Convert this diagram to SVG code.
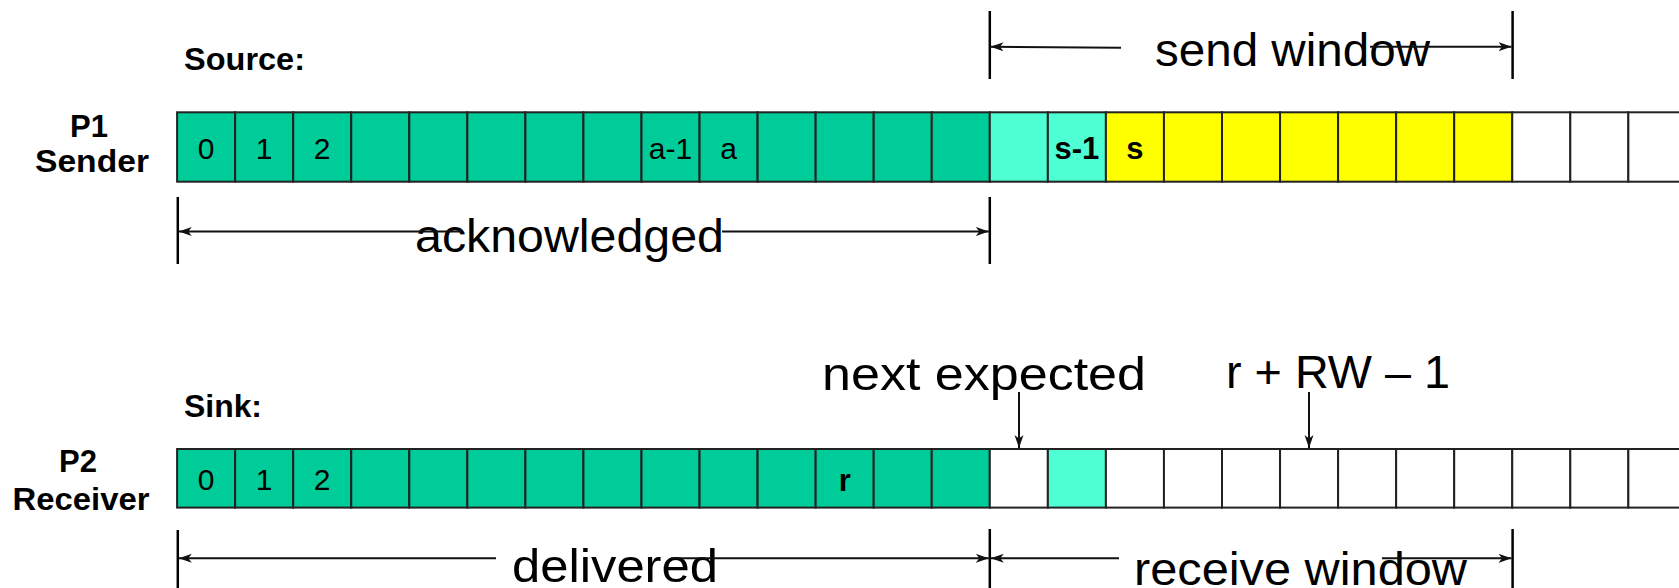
<svg xmlns="http://www.w3.org/2000/svg" width="1679" height="588" viewBox="0 0 1679 588">
<style>
  .cell{stroke:#222;stroke-width:2}
  .g{fill:#00CC99}
  .q{fill:#4DFFD2}
  .y{fill:#FFFF00}
  .w{fill:#FFFFFF}
  .num{font-family:"Liberation Sans",Arial,sans-serif;font-size:30px;fill:#000;text-anchor:middle}
  .bnum{font-family:"Liberation Sans",Arial,sans-serif;font-size:31px;font-weight:bold;fill:#000;text-anchor:middle}
  .lbl{font-family:"Liberation Sans",Arial,sans-serif;font-size:31px;font-weight:bold;fill:#000}
  .big{font-family:"Liberation Sans",Arial,sans-serif;font-size:46px;fill:#000}
  .tick{stroke:#000;stroke-width:2.5}
  .arr{stroke:#111;stroke-width:2;fill:none}
</style>
<defs>
  <marker id="ah" markerUnits="userSpaceOnUse" markerWidth="14" markerHeight="10" refX="13" refY="4.5" orient="auto-start-reverse">
    <path d="M0,0 L13,4.5 L0,9 L3.5,4.5 Z" fill="#111"/>
  </marker>
</defs>
<rect width="1679" height="588" fill="#fff"/>

<g id="source-label"><text class="lbl" x="184" y="70" textLength="121" lengthAdjust="spacingAndGlyphs">Source:</text></g>
<g id="p1-label">
  <text class="lbl" x="89" y="137" text-anchor="middle">P1</text>
  <text class="lbl" x="92" y="172" text-anchor="middle" textLength="114" lengthAdjust="spacingAndGlyphs">Sender</text>
</g>

<g id="sender-row">
  <rect class="cell g" x="177.1" y="112.3" width="58.05" height="69.4"/>
  <rect class="cell g" x="235.15" y="112.3" width="58.05" height="69.4"/>
  <rect class="cell g" x="293.2" y="112.3" width="58.05" height="69.4"/>
  <rect class="cell g" x="351.25" y="112.3" width="58.05" height="69.4"/>
  <rect class="cell g" x="409.3" y="112.3" width="58.05" height="69.4"/>
  <rect class="cell g" x="467.35" y="112.3" width="58.05" height="69.4"/>
  <rect class="cell g" x="525.4" y="112.3" width="58.05" height="69.4"/>
  <rect class="cell g" x="583.45" y="112.3" width="58.05" height="69.4"/>
  <rect class="cell g" x="641.5" y="112.3" width="58.05" height="69.4"/>
  <rect class="cell g" x="699.55" y="112.3" width="58.05" height="69.4"/>
  <rect class="cell g" x="757.6" y="112.3" width="58.05" height="69.4"/>
  <rect class="cell g" x="815.65" y="112.3" width="58.05" height="69.4"/>
  <rect class="cell g" x="873.7" y="112.3" width="58.05" height="69.4"/>
  <rect class="cell g" x="931.75" y="112.3" width="58.05" height="69.4"/>
  <rect class="cell q" x="989.8" y="112.3" width="58.05" height="69.4"/>
  <rect class="cell q" x="1047.85" y="112.3" width="58.05" height="69.4"/>
  <rect class="cell y" x="1105.9" y="112.3" width="58.05" height="69.4"/>
  <rect class="cell y" x="1163.95" y="112.3" width="58.05" height="69.4"/>
  <rect class="cell y" x="1222" y="112.3" width="58.05" height="69.4"/>
  <rect class="cell y" x="1280.05" y="112.3" width="58.05" height="69.4"/>
  <rect class="cell y" x="1338.1" y="112.3" width="58.05" height="69.4"/>
  <rect class="cell y" x="1396.15" y="112.3" width="58.05" height="69.4"/>
  <rect class="cell y" x="1454.2" y="112.3" width="58.05" height="69.4"/>
  <rect class="cell w" x="1512.25" y="112.3" width="58.05" height="69.4"/>
  <rect class="cell w" x="1570.3" y="112.3" width="58.05" height="69.4"/>
  <rect class="cell w" x="1628.35" y="112.3" width="58.05" height="69.4"/>
  <text class="num" x="206.1" y="159">0</text>
  <text class="num" x="264.2" y="159">1</text>
  <text class="num" x="322.2" y="159">2</text>
  <text class="num" x="670.5" y="159">a-1</text>
  <text class="num" x="728.6" y="159">a</text>
  <text class="bnum" x="1076.9" y="159">s-1</text>
  <text class="bnum" x="1134.9" y="159">s</text>
</g>

<g id="sink-label"><text class="lbl" x="184" y="417" textLength="78" lengthAdjust="spacingAndGlyphs">Sink:</text></g>
<g id="p2-label">
  <text class="lbl" x="78" y="472" text-anchor="middle">P2</text>
  <text class="lbl" x="81" y="510" text-anchor="middle" textLength="137" lengthAdjust="spacingAndGlyphs">Receiver</text>
</g>

<g id="receiver-row">
  <rect class="cell g" x="177.1" y="449" width="58.05" height="58.6"/>
  <rect class="cell g" x="235.15" y="449" width="58.05" height="58.6"/>
  <rect class="cell g" x="293.2" y="449" width="58.05" height="58.6"/>
  <rect class="cell g" x="351.25" y="449" width="58.05" height="58.6"/>
  <rect class="cell g" x="409.3" y="449" width="58.05" height="58.6"/>
  <rect class="cell g" x="467.35" y="449" width="58.05" height="58.6"/>
  <rect class="cell g" x="525.4" y="449" width="58.05" height="58.6"/>
  <rect class="cell g" x="583.45" y="449" width="58.05" height="58.6"/>
  <rect class="cell g" x="641.5" y="449" width="58.05" height="58.6"/>
  <rect class="cell g" x="699.55" y="449" width="58.05" height="58.6"/>
  <rect class="cell g" x="757.6" y="449" width="58.05" height="58.6"/>
  <rect class="cell g" x="815.65" y="449" width="58.05" height="58.6"/>
  <rect class="cell g" x="873.7" y="449" width="58.05" height="58.6"/>
  <rect class="cell g" x="931.75" y="449" width="58.05" height="58.6"/>
  <rect class="cell w" x="989.8" y="449" width="58.05" height="58.6"/>
  <rect class="cell q" x="1047.85" y="449" width="58.05" height="58.6"/>
  <rect class="cell w" x="1105.9" y="449" width="58.05" height="58.6"/>
  <rect class="cell w" x="1163.95" y="449" width="58.05" height="58.6"/>
  <rect class="cell w" x="1222" y="449" width="58.05" height="58.6"/>
  <rect class="cell w" x="1280.05" y="449" width="58.05" height="58.6"/>
  <rect class="cell w" x="1338.1" y="449" width="58.05" height="58.6"/>
  <rect class="cell w" x="1396.15" y="449" width="58.05" height="58.6"/>
  <rect class="cell w" x="1454.2" y="449" width="58.05" height="58.6"/>
  <rect class="cell w" x="1512.25" y="449" width="58.05" height="58.6"/>
  <rect class="cell w" x="1570.3" y="449" width="58.05" height="58.6"/>
  <rect class="cell w" x="1628.35" y="449" width="58.05" height="58.6"/>
  <text class="num" x="206.1" y="490">0</text>
  <text class="num" x="264.2" y="490">1</text>
  <text class="num" x="322.2" y="490">2</text>
  <text class="bnum" x="844.7" y="491">r</text>
</g>

<g id="labels">
  <text class="big" x="1155" y="66" textLength="275" lengthAdjust="spacingAndGlyphs">send window</text>
  <text class="big" x="415" y="252" textLength="309" lengthAdjust="spacingAndGlyphs">acknowledged</text>
  <text class="big" x="822" y="390" textLength="324" lengthAdjust="spacingAndGlyphs">next expected</text>
  <text class="big" x="1226" y="388" textLength="224" lengthAdjust="spacingAndGlyphs">r + RW – 1</text>
  <text class="big" x="512" y="582" textLength="206" lengthAdjust="spacingAndGlyphs">delivered</text>
  <text class="big" x="1134" y="585" textLength="333" lengthAdjust="spacingAndGlyphs">receive window</text>
</g>

<g id="connectors">
  <line class="tick" x1="989.8" y1="11" x2="989.8" y2="79"/>
  <line class="tick" x1="1512.6" y1="11" x2="1512.6" y2="79"/>
  <line class="arr" x1="990.5" y1="46.7" x2="1121" y2="47.7" marker-start="url(#ah)"/>
  <line class="arr" x1="1370" y1="46.7" x2="1511.5" y2="46.7" marker-end="url(#ah)"/>

  <line class="tick" x1="177.8" y1="197" x2="177.8" y2="264"/>
  <line class="tick" x1="989.8" y1="197" x2="989.8" y2="264"/>
  <line class="arr" x1="178.8" y1="231.5" x2="461" y2="231.5" marker-start="url(#ah)"/>
  <line class="arr" x1="722" y1="231.5" x2="988.8" y2="231.5" marker-end="url(#ah)"/>

  <line class="arr" x1="1019" y1="392" x2="1019" y2="448" marker-end="url(#ah)"/>
  <line class="arr" x1="1309" y1="392" x2="1309" y2="448" marker-end="url(#ah)"/>

  <line class="tick" x1="177.8" y1="530" x2="177.8" y2="588"/>
  <line class="tick" x1="989.8" y1="529" x2="989.8" y2="588"/>
  <line class="tick" x1="1512.6" y1="529" x2="1512.6" y2="588"/>
  <line class="arr" x1="178.8" y1="558.3" x2="496" y2="558.3" marker-start="url(#ah)"/>
  <line class="arr" x1="671" y1="558.3" x2="988.8" y2="558.3" marker-end="url(#ah)"/>
  <line class="arr" x1="990.8" y1="558.3" x2="1119" y2="558.3" marker-start="url(#ah)"/>
  <line class="arr" x1="1382" y1="558.3" x2="1511.5" y2="558.3" marker-end="url(#ah)"/>
</g>
</svg>
